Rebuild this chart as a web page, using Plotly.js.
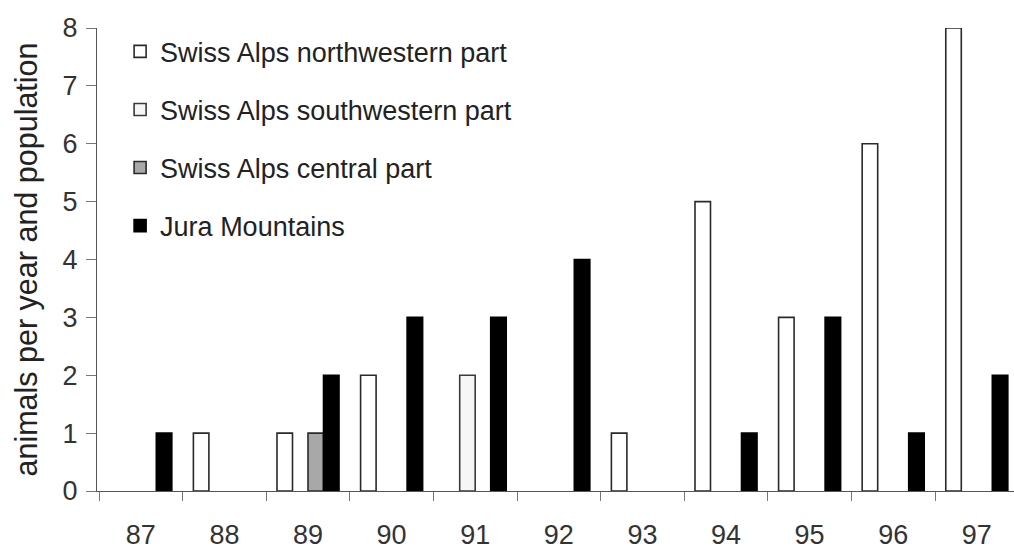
<!DOCTYPE html>
<html>
<head>
<meta charset="utf-8">
<script src="https://cdn.plot.ly/plotly-3.0.1.min.js"></script>
<style>
  html, body { margin: 0; padding: 0; background: #ffffff; }
  #chart { width: 1014px; height: 549px; }
</style>
</head>
<body>
<div id="chart"></div>
<script>
// ---- data ----
const years = ['87', '88', '89', '90', '91', '92', '93', '94', '95', '96', '97'];
const seriesNames = [
  'Swiss Alps northwestern part',
  'Swiss Alps southwestern part',
  'Swiss Alps central part',
  'Jura Mountains'
];
const alpsNorthwest = [null, 1, 1, 2, null, null, 1, 5, 3, 6, 8];
const alpsSouthwest = [null, null, null, null, 2, null, null, null, null, null, null];
const alpsCentral   = [null, null, 1, null, null, null, null, null, null, null, null];
const juraMountains = [1, null, 2, 3, 3, 4, null, 1, 3, 1, 2];

const fills = ['#ffffff', '#f6f6f6', '#a8a8a8', '#000000'];
const lines = ['#2a2a2a', '#3a3a3a', '#2a2a2a', '#000000'];
const valueSets = [alpsNorthwest, alpsSouthwest, alpsCentral, juraMountains];

const traces = valueSets.map((vals, i) => ({
  type: 'bar',
  name: seriesNames[i],
  x: years,
  y: vals,
  legendgroup: 'g' + i,
  marker: { color: fills[i], line: { color: lines[i], width: 1.6 } },
  hoverinfo: 'x+y+name'
}));

const font = { family: 'Liberation Sans, Arial, sans-serif', color: '#222222' };

const layout = {
  width: 1014,
  height: 549,
  margin: { l: 97, r: 0, t: 28, b: 58, pad: 0 },
  paper_bgcolor: '#ffffff',
  plot_bgcolor: '#ffffff',
  barmode: 'group',
  bargap: 0.258,
  bargroupgap: 0,
  font: font,
  showlegend: true,
  legend: {
    x: 0.0252, xanchor: 'left',
    y: 1.0015, yanchor: 'top',
    bgcolor: 'rgba(0,0,0,0)',
    borderwidth: 0,
    traceorder: 'grouped',
    tracegroupgap: 20,
    font: { family: font.family, size: 27, color: '#222222' }
  },
  xaxis: {
    type: 'category',
    range: [-0.524, 10.445],
    showgrid: false,
    zeroline: false,
    showline: true,
    linecolor: '#555555',
    linewidth: 1,
    ticks: 'outside',
    tickson: 'boundaries',
    ticklen: 9,
    tickcolor: '#777777',
    tickwidth: 1,
    ticklabelstandoff: 20,
    tickfont: { family: font.family, size: 27, color: '#333333' },
    fixedrange: true
  },
  yaxis: {
    range: [0, 8],
    dtick: 1,
    tick0: 0,
    showgrid: false,
    zeroline: false,
    showline: true,
    linecolor: '#555555',
    linewidth: 1,
    ticks: 'outside',
    ticklen: 10,
    tickcolor: '#777777',
    tickwidth: 1,
    ticklabelstandoff: 3,
    tickfont: { family: font.family, size: 27, color: '#333333' },
    title: {
      text: 'animals per year and population',
      font: { family: font.family, size: 30.5, color: '#222222' },
      standoff: 15
    },
    fixedrange: true
  }
};

Plotly.newPlot('chart', traces, layout, { displayModeBar: false, staticPlot: true });
</script>
</body>
</html>
